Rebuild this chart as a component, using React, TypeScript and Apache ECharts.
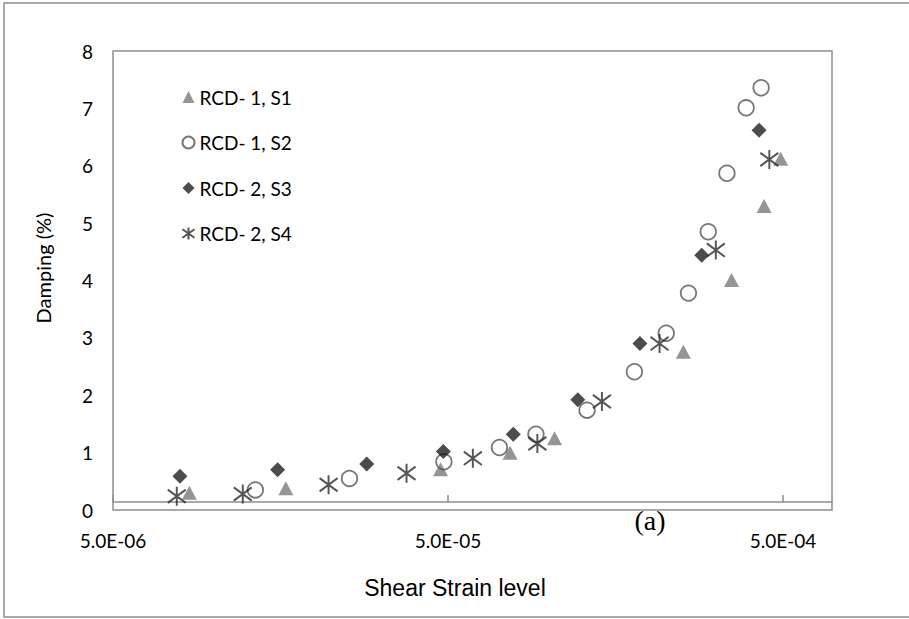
import { useEffect, useRef } from 'react';
import * as echarts from 'echarts';

const seriesNames = ['RCD- 1, S1', 'RCD- 1, S2', 'RCD- 2, S3', 'RCD- 2, S4'];

const s1Strain = [8.45e-6, 1.64e-5, 4.75e-5, 7.66e-5, 1.04e-4, 2.52e-4, 3.51e-4, 4.39e-4, 4.92e-4];
const s1Damp = [0.3, 0.38, 0.71, 1.0, 1.25, 2.76, 4.01, 5.3, 6.12];

const s2Strain = [1.33e-5, 2.54e-5, 4.86e-5, 7.12e-5, 9.15e-5, 1.3e-4, 1.8e-4, 2.24e-4, 2.61e-4, 2.99e-4, 3.4e-4, 3.88e-4, 4.3e-4];
const s2Damp = [0.35, 0.55, 0.84, 1.09, 1.32, 1.74, 2.41, 3.08, 3.78, 4.85, 5.87, 7.01, 7.36];

const s3Strain = [7.92e-6, 1.55e-5, 2.86e-5, 4.84e-5, 7.83e-5, 1.22e-4, 1.87e-4, 2.86e-4, 4.24e-4];
const s3Damp = [0.59, 0.7, 0.8, 1.02, 1.32, 1.92, 2.9, 4.44, 6.62];

const s4Strain = [7.75e-6, 1.22e-5, 2.2e-5, 3.76e-5, 5.93e-5, 9.24e-5, 1.44e-4, 2.14e-4, 3.15e-4, 4.55e-4];
const s4Damp = [0.24, 0.28, 0.44, 0.64, 0.9, 1.16, 1.89, 2.9, 4.53, 6.11];

const xTickValues = [5e-6, 5e-5, 5e-4];
const xTickLabels = ['5.0E-06', '5.0E-05', '5.0E-04'];
const xMin = 5e-6;
const xMax = 7e-4;
const yMin = 0;
const yMax = 8;
const yStep = 1;

const xTitle = 'Shear Strain level';
const yTitle = 'Damping (%)';
const panelLabel = '(a)';

const ASTERISK = 'path://M10,0 L10,20 M0,3 L20,17 M0,17 L20,3';

const toPairs = (xs: number[], ys: number[]) => xs.map((x, i) => [Math.log10(x), ys[i]]);

export default function App() {
  const ref = useRef<HTMLDivElement>(null);

  useEffect(() => {
    if (!ref.current) return;
    const chart = echarts.init(ref.current, undefined, { renderer: 'svg' });
    const tickLogs = xTickValues.map((v) => Math.log10(v));
    const fmtX = (v: number) => {
      let best = 0;
      let bd = Infinity;
      tickLogs.forEach((t, i) => {
        const d = Math.abs(t - v);
        if (d < bd) {
          bd = d;
          best = i;
        }
      });
      return xTickLabels[best];
    };
    const gray = '#8f8f8f';
    const labelFont = 'Lato, "Open Sans", sans-serif';

    chart.setOption({
      animation: false,
      backgroundColor: '#ffffff',
      grid: {
        left: 113,
        top: 51,
        right: 77,
        bottom: 109,
        show: true,
        borderColor: gray,
        borderWidth: 1.5,
        backgroundColor: 'transparent',
        containLabel: false,
        outerBoundsMode: 'none',
      },
      legend: {
        orient: 'vertical',
        left: 180,
        top: 86,
        padding: 0,
        itemWidth: 12,
        itemHeight: 12,
        itemGap: 23.5,
        data: seriesNames,
        textStyle: { fontFamily: labelFont, fontSize: 19, color: '#000', lineHeight: 22 },
      },
      xAxis: [
        {
          type: 'value',
          min: Math.log10(xMin),
          max: Math.log10(xMax),
          position: 'bottom',
          axisLine: { show: false },
          axisTick: { show: false },
          splitLine: { show: false },
          axisLabel: {
            customValues: tickLogs,
            formatter: (v: number) => fmtX(v),
            fontFamily: labelFont,
            fontSize: 19,
            color: '#000',
            margin: 21,
          },
        },
        {
          type: 'value',
          min: Math.log10(xMin),
          max: Math.log10(xMax),
          position: 'bottom',
          offset: -8,
          axisLine: { show: true, lineStyle: { color: gray, width: 1.5 } },
          axisTick: {
            show: true,
            inside: true,
            length: 7,
            customValues: tickLogs,
            lineStyle: { color: gray, width: 1.5 },
          },
          axisLabel: { show: false },
          splitLine: { show: false },
        },
      ],
      yAxis: {
        type: 'value',
        min: yMin,
        max: yMax,
        interval: yStep,
        axisLine: { show: false },
        axisTick: { show: false },
        splitLine: { show: false },
        axisLabel: { fontFamily: labelFont, fontSize: 19, color: '#000', margin: 20 },
      },
      series: [
        {
          name: seriesNames[0],
          type: 'scatter',
          xAxisIndex: 0,
          data: toPairs(s1Strain, s1Damp),
          symbol: 'triangle',
          symbolSize: [15, 14],
          itemStyle: { color: '#7a7a7a' },
        },
        {
          name: seriesNames[1],
          type: 'scatter',
          xAxisIndex: 0,
          data: toPairs(s2Strain, s2Damp),
          symbol: 'circle',
          symbolSize: 15.5,
          itemStyle: { color: 'transparent', borderColor: '#555555', borderWidth: 1.8 },
        },
        {
          name: seriesNames[2],
          type: 'scatter',
          xAxisIndex: 0,
          data: toPairs(s3Strain, s3Damp),
          symbol: 'diamond',
          symbolSize: 15,
          itemStyle: { color: '#1f1f1f' },
        },
        {
          name: seriesNames[3],
          type: 'scatter',
          xAxisIndex: 0,
          data: toPairs(s4Strain, s4Damp),
          symbol: ASTERISK,
          symbolSize: [18, 19],
          itemStyle: { color: 'none', borderColor: '#2b2b2b', borderWidth: 2 },
        },
      ],
      graphic: [
        {
          type: 'rect',
          shape: { x: 4, y: 3, width: 940, height: 614 },
          style: { fill: 'none', stroke: gray, lineWidth: 1.5 },
          silent: true,
        },
        {
          type: 'text',
          x: 455,
          y: 588,
          style: {
            text: xTitle,
            fontFamily: '"Liberation Sans", Arial, sans-serif',
            fontSize: 23,
            fill: '#000',
            align: 'center',
            verticalAlign: 'middle',
          },
        },
        {
          type: 'text',
          x: 43,
          y: 268,
          rotation: Math.PI / 2,
          style: {
            text: yTitle,
            fontFamily: labelFont,
            fontSize: 20,
            fill: '#000',
            align: 'center',
            verticalAlign: 'middle',
          },
        },
        {
          type: 'text',
          x: 650,
          y: 520,
          style: {
            text: panelLabel,
            fontFamily: '"Liberation Serif", "Times New Roman", serif',
            fontSize: 28,
            fill: '#000',
            align: 'center',
            verticalAlign: 'middle',
          },
        },
      ],
    });

    return () => {
      chart.dispose();
    };
  }, []);

  return (
    <div
      ref={ref}
      style={{ position: 'fixed', left: 0, top: 0, width: 909, height: 619, background: '#fff' }}
    />
  );
}
